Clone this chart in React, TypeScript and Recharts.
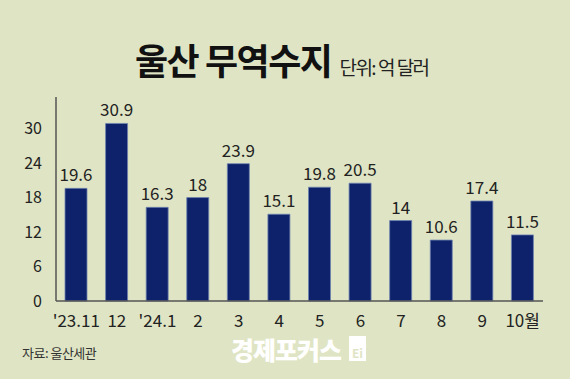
import React from "react";
import { BarChart, Bar, XAxis, YAxis, LabelList } from "recharts";

const categories = ["'23.11", "12", "'24.1", "2", "3", "4", "5", "6", "7", "8", "9", "10월"];
const balance = [19.6, 30.9, 16.3, 18, 23.9, 15.1, 19.8, 20.5, 14, 10.6, 17.4, 11.5];
const yTicks = [0, 6, 12, 18, 24, 30];

const data = categories.map((c, i) => ({ month: c, value: balance[i] }));

const FONT = "'Noto Sans CJK KR', 'Noto Sans', sans-serif";
const BG = "#dfe5c4";

export default function App() {
  return (
    <div
      style={{
        position: "absolute",
        left: 0,
        top: 0,
        width: 570,
        height: 379,
        background: BG,
        fontFamily: FONT,
        overflow: "hidden",
      }}
    >
      <div
        style={{
          position: "absolute",
          left: 135,
          top: 33,
          whiteSpace: "nowrap",
          display: "flex",
          alignItems: "baseline",
        }}
      >
        <span style={{ fontSize: 36, fontWeight: 700, color: "#111", letterSpacing: -1.5 }}>울산 무역수지</span>
        <span style={{ fontSize: 19, color: "#222", marginLeft: 8, letterSpacing: -1.5 }}>단위: 억 달러</span>
      </div>
      <BarChart
        width={570}
        height={379}
        data={data}
        margin={{ top: 97, right: 27, bottom: 48, left: 0 }}
        barSize={22}
      >
        <YAxis
          width={56}
          domain={[0, 35.5]}
          ticks={yTicks}
          tickLine={false}
          axisLine={{ stroke: "#555", strokeWidth: 1.5 }}
          tick={{ fontSize: 16, fill: "#222", fontFamily: FONT }}
          tickMargin={8}
        />
        <XAxis
          dataKey="month"
          height={30}
          tickLine={false}
          axisLine={{ stroke: "#555", strokeWidth: 1.5 }}
          tick={{ fontSize: 17, fill: "#222", fontFamily: FONT }}
          tickMargin={8}
          interval={0}
        />
        <Bar dataKey="value" fill="#0d226b" stroke="#6f83b0" strokeWidth={0.8} isAnimationActive={false}>
          <LabelList dataKey="value" position="top" offset={7} style={{ fontSize: 17, fill: "#222", fontFamily: FONT }} />
        </Bar>
      </BarChart>
      <div style={{ position: "absolute", left: 22, top: 343, fontSize: 13, color: "#333", letterSpacing: -0.5 }}>
        자료: 울산세관
      </div>
      <div
        style={{
          position: "absolute",
          left: 231,
          top: 337,
          fontSize: 25,
          fontWeight: 900,
          color: "#ffffff",
          letterSpacing: -1,
          whiteSpace: "nowrap",
          lineHeight: "24px",
        }}
      >
        경제포커스
      </div>
      <div
        style={{
          position: "absolute",
          left: 349,
          top: 336,
          width: 17,
          height: 25,
          background: "#ffffff",
          color: BG,
          fontSize: 12,
          fontWeight: 700,
          lineHeight: "12px",
          display: "flex",
          alignItems: "flex-end",
          justifyContent: "center",
          paddingBottom: 2,
          boxSizing: "border-box",
        }}
      >
        Ei
      </div>
    </div>
  );
}
